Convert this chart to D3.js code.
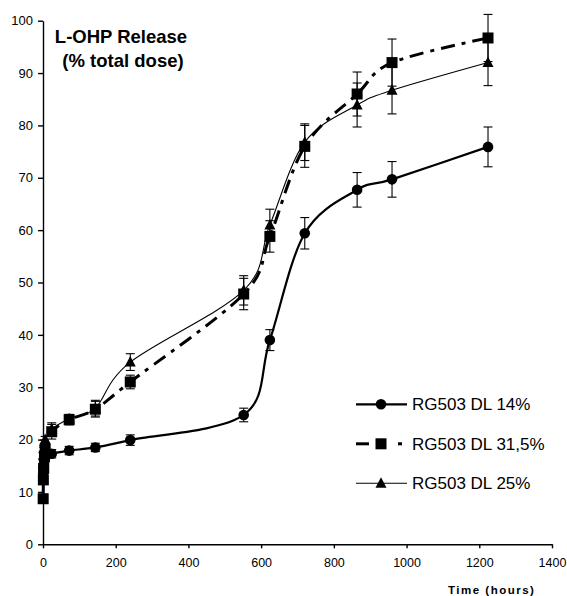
<!DOCTYPE html>
<html>
<head>
<meta charset="utf-8">
<script src="https://cdn.jsdelivr.net/npm/d3@7"></script>
<style>
  body { margin: 0; background: #fff; }
  svg { font-family: Arial, "Liberation Sans", sans-serif; }
</style>
</head>
<body>
<svg id="chart" width="567" height="596"></svg>
<script>
// sampling times (hours)
const times = [0.5, 1, 2, 4, 6, 24, 72, 144, 240, 552, 624, 720, 864, 960, 1224];

// RG503 DL 14%
const dl14 = [13.5, 14.3, 15.2, 16.0, 16.6, 17.3, 17.9, 18.5, 19.9, 24.7, 39.0, 59.4, 67.7, 69.7, 75.9];
const dl14Err = [0.8, 0.8, 0.8, 0.8, 0.8, 0.8, 0.8, 0.8, 1.0, 1.3, 2.0, 3.0, 3.3, 3.4, 3.8];

// RG503 DL 31,5%
const dl315 = [8.7, 12.3, 14.5, 16.8, 18.2, 21.5, 23.8, 25.8, 31.0, 47.8, 58.8, 76.0, 86.0, 92.0, 96.7];
const dl315Err = [0.6, 0.6, 0.6, 0.6, 0.6, 1.4, 1.0, 1.5, 1.3, 3.0, 3.0, 4.0, 4.2, 4.5, 4.5];

// RG503 DL 25%
const dl25 = [15.5, 17.0, 18.3, 19.3, 20.0, 22.0, 24.0, 26.0, 34.8, 48.5, 61.0, 76.8, 83.9, 86.7, 92.0];
const dl25Err = [0.6, 0.6, 0.6, 0.6, 0.6, 1.2, 0.8, 1.5, 1.6, 2.8, 3.0, 3.5, 4.2, 4.5, 4.4];

const xTicks = [0, 200, 400, 600, 800, 1000, 1200, 1400];
const yTicks = [0, 10, 20, 30, 40, 50, 60, 70, 80, 90, 100];

const series = [
    { name: "RG503 DL 25%", values: dl25, errs: dl25Err, marker: "triangle", width: 1.1, dash: null },
    { name: "RG503 DL 31,5%", values: dl315, errs: dl315Err, marker: "square", width: 3, dash: "14,7,4,7" },
    { name: "RG503 DL 14%", values: dl14, errs: dl14Err, marker: "circle", width: 2.2, dash: null }
];
const legendOrder = ["RG503 DL 14%", "RG503 DL 31,5%", "RG503 DL 25%"];

const svg = d3.select("#chart");

const x = d3.scaleLinear().domain([0, 1400]).range([43, 552]);
const y = d3.scaleLinear().domain([0, 100]).range([544.3, 20.7]);

// axes
svg.append("g")
    .attr("transform", `translate(0,${y(0)})`)
    .call(d3.axisBottom(x).tickValues(xTicks).tickFormat(d3.format("d"))
        .tickSize(4).tickPadding(10).tickSizeOuter(0))
    .call(g => g.selectAll("text").style("font-size", "12.5px").attr("fill", "#000"))
    .call(g => g.selectAll("line,path").attr("stroke", "#000").attr("stroke-width", 1.4));

svg.append("g")
    .attr("transform", `translate(${x(0)},0)`)
    .call(d3.axisLeft(y).tickValues(yTicks).tickSize(5).tickPadding(5).tickSizeOuter(0))
    .call(g => g.selectAll("text").style("font-size", "13px").attr("fill", "#000"))
    .call(g => g.selectAll("line,path").attr("stroke", "#000").attr("stroke-width", 1.4));

// title
svg.append("text")
    .attr("x", 121).attr("y", 43)
    .attr("text-anchor", "middle")
    .style("font-size", "18.5px").style("font-weight", "bold")
    .text("L-OHP Release");
svg.append("text")
    .attr("x", 123).attr("y", 67)
    .attr("text-anchor", "middle")
    .style("font-size", "18.5px").style("font-weight", "bold")
    .text("(% total dose)");

svg.append("text")
    .attr("x", 448).attr("y", 594)
    .style("font-size", "11.5px").style("font-weight", "bold")
    .style("letter-spacing", "1.5px")
    .text("Time (hours)");

const line = d3.line()
    .curve(d3.curveCardinal.tension(0))
    .x(d => x(d[0]))
    .y(d => y(d[1]));

function drawMarker(g, type, cx, cy) {
    if (type === "circle") {
        g.append("circle").attr("cx", cx).attr("cy", cy).attr("r", 5.3).attr("fill", "#000");
    } else if (type === "square") {
        g.append("rect").attr("x", cx - 5.5).attr("y", cy - 5.5).attr("width", 11).attr("height", 11).attr("fill", "#000");
    } else {
        g.append("path")
            .attr("d", `M${cx},${cy - 6}L${cx + 5.5},${cy + 4.5}L${cx - 5.5},${cy + 4.5}Z`)
            .attr("fill", "#000");
    }
}

series.forEach(s => {
    const pts = times.map((t, i) => [t, s.values[i]]);
    const g = svg.append("g");

    // error bars
    pts.forEach(([t, v], i) => {
        const e = s.errs[i];
        const px = x(t);
        g.append("line")
            .attr("x1", px).attr("x2", px)
            .attr("y1", y(v + e)).attr("y2", y(v - e))
            .attr("stroke", "#000").attr("stroke-width", 1.1);
        [v + e, v - e].forEach(val => {
            g.append("line")
                .attr("x1", px - 4.5).attr("x2", px + 4.5)
                .attr("y1", y(val)).attr("y2", y(val))
                .attr("stroke", "#000").attr("stroke-width", 1.1);
        });
    });

    g.append("path")
        .datum(pts)
        .attr("fill", "none")
        .attr("stroke", "#000")
        .attr("stroke-width", s.width)
        .attr("stroke-dasharray", s.dash)
        .attr("d", line);

    pts.forEach(([t, v]) => drawMarker(g, s.marker, x(t), y(v)));
});

// legend
const legend = svg.append("g");
legendOrder.forEach((name, i) => {
    const s = series.find(d => d.name === name);
    const ly = 404.3 + i * 39.5;
    const lg = legend.append("g");
    if (s.marker === "square") {
        lg.append("line").attr("x1", 356).attr("x2", 369).attr("y1", ly).attr("y2", ly)
            .attr("stroke", "#000").attr("stroke-width", s.width);
        lg.append("line").attr("x1", 398).attr("x2", 402).attr("y1", ly).attr("y2", ly)
            .attr("stroke", "#000").attr("stroke-width", s.width);
    } else {
        lg.append("line").attr("x1", 356).attr("x2", 407).attr("y1", ly).attr("y2", ly)
            .attr("stroke", "#000").attr("stroke-width", s.width);
    }
    drawMarker(lg, s.marker, 381, ly);
    lg.append("text")
        .attr("x", 412).attr("y", ly + 6)
        .style("font-size", "17px")
        .text(name);
});
</script>
</body>
</html>
